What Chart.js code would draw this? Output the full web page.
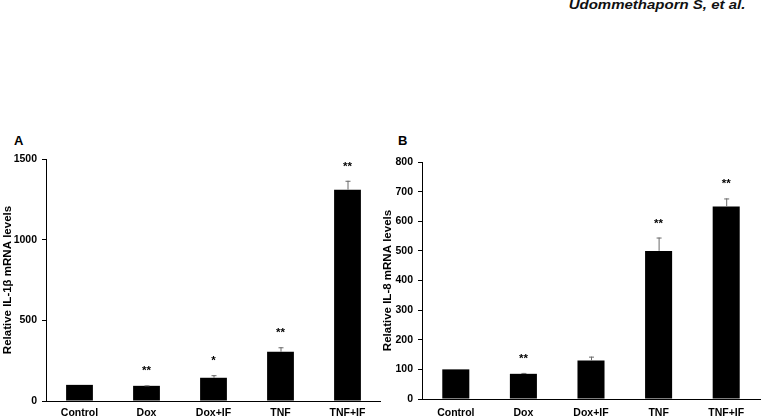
<!DOCTYPE html>
<html>
<head>
<meta charset="utf-8">
<script src="https://cdn.jsdelivr.net/npm/chart.js@4.4.1/dist/chart.umd.min.js"></script>
<style>
    body { margin: 0; background: #fff; width: 763px; height: 419px; overflow: hidden; position: relative; font-family: "Liberation Sans", Arial, sans-serif; }
    .header { position: absolute; top: -1px; right: 18px; font-size: 12px; line-height: 12px; font-weight: bold; font-style: italic; color: #111; transform: scaleX(1.25); transform-origin: right center; white-space: nowrap; }
    .panel-label { position: absolute; top: 134px; font-size: 13px; line-height: 13px; font-weight: bold; color: #000; }
    canvas { position: absolute; top: 130px; }
</style>
</head>
<body>
<div class="header">Udommethaporn S, et al.</div>
<div class="panel-label" style="left:14px;">A</div>
<div class="panel-label" style="left:398px;">B</div>
<canvas id="il1bChart" width="381" height="289" style="left:0px;"></canvas>
<canvas id="il8Chart" width="383" height="289" style="left:380px;"></canvas>
<script>
const categories = ['Control', 'Dox', 'Dox+IF', 'TNF', 'TNF+IF'];

// panel A - IL-1beta
const il1bMeans = [100, 94, 144, 305, 1310];
const il1bSd = [0, 3, 16, 28, 55];
const il1bStars = ['', '**', '*', '**', '**'];
const il1bTicks = [0, 500, 1000, 1500];

// panel B - IL-8
const il8Means = [100, 85, 130, 500, 650];
const il8Sd = [0, 3, 13, 45, 27];
const il8Stars = ['', '**', '', '**', '**'];
const il8Ticks = [0, 100, 200, 300, 400, 500, 600, 700, 800];

const tickFont = { family: 'Liberation Sans', size: 10.5, weight: 'bold' };

// error bars (upper only) and significance stars
const errorBarPlugin = {
    id: 'errorBars',
    afterDatasetsDraw(chart, args, opts) {
        const ctx = chart.ctx;
        const yScale = chart.scales.y;
        const meta = chart.getDatasetMeta(0);
        const means = chart.data.datasets[0].data;
        ctx.save();
        meta.data.forEach((bar, i) => {
            const top = means[i] + opts.sd[i];
            const yTop = yScale.getPixelForValue(top);
            if (opts.sd[i] > 0) {
                ctx.strokeStyle = '#6b6b6b';
                ctx.lineWidth = 1;
                ctx.beginPath();
                ctx.moveTo(bar.x + 0.5, bar.y);
                ctx.lineTo(bar.x + 0.5, yTop);
                ctx.moveTo(bar.x - 2, yTop + 0.5);
                ctx.lineTo(bar.x + 3, yTop + 0.5);
                ctx.stroke();
            }
            if (opts.stars[i]) {
                ctx.fillStyle = '#000';
                ctx.font = 'bold 11.5px "Liberation Sans"';
                ctx.textAlign = 'center';
                ctx.textBaseline = 'alphabetic';
                ctx.fillText(opts.stars[i], bar.x, yTop - 11);
            }
        });
        ctx.restore();
    }
};

function makeChart(canvasId, means, sd, stars, ticks, title, yWidth, xHeight, xPad, padTop, padRight) {
    const ctx = document.getElementById(canvasId).getContext('2d');
    return new Chart(ctx, {
        type: 'bar',
        data: {
            labels: categories,
            datasets: [{
                data: means,
                backgroundColor: '#000',
                borderWidth: 0,
                categoryPercentage: 1,
                barPercentage: 0.4
            }]
        },
        options: {
            responsive: false,
            animation: false,
            devicePixelRatio: 1,
            layout: { padding: { top: padTop, right: padRight, left: 0, bottom: 0 } },
            plugins: {
                legend: { display: false },
                tooltip: { enabled: false },
                errorBars: { sd: sd, stars: stars }
            },
            scales: {
                x: {
                    grid: { display: false, drawTicks: false },
                    border: { color: '#000', width: 1 },
                    ticks: { color: '#000', font: tickFont, padding: xPad, maxRotation: 0 },
                    afterFit: scale => { scale.height = xHeight; }
                },
                y: {
                    min: ticks[0],
                    max: ticks[ticks.length - 1],
                    afterBuildTicks: scale => { scale.ticks = ticks.map(v => ({ value: v })); },
                    grid: { drawOnChartArea: false, drawTicks: true, tickLength: 4, color: '#000' },
                    border: { color: '#000', width: 1 },
                    ticks: { color: '#000', font: tickFont, padding: 5, callback: v => String(v) },
                    title: {
                        display: true,
                        text: title,
                        color: '#000',
                        font: { family: 'Liberation Sans', size: 11.5, weight: 'bold' },
                        padding: { top: 1, bottom: 0 }
                    },
                    afterFit: scale => { scale.width = yWidth; }
                }
            }
        },
        plugins: [errorBarPlugin]
    });
}

makeChart('il1bChart', il1bMeans, il1bSd, il1bStars, il1bTicks,
    'Relative IL-1β mRNA levels', 46, 18, 6, 29, 0);
makeChart('il8Chart', il8Means, il8Sd, il8Stars, il8Ticks,
    'Relative IL-8 mRNA levels', 42, 20, 8, 32, 3);
</script>
</body>
</html>
